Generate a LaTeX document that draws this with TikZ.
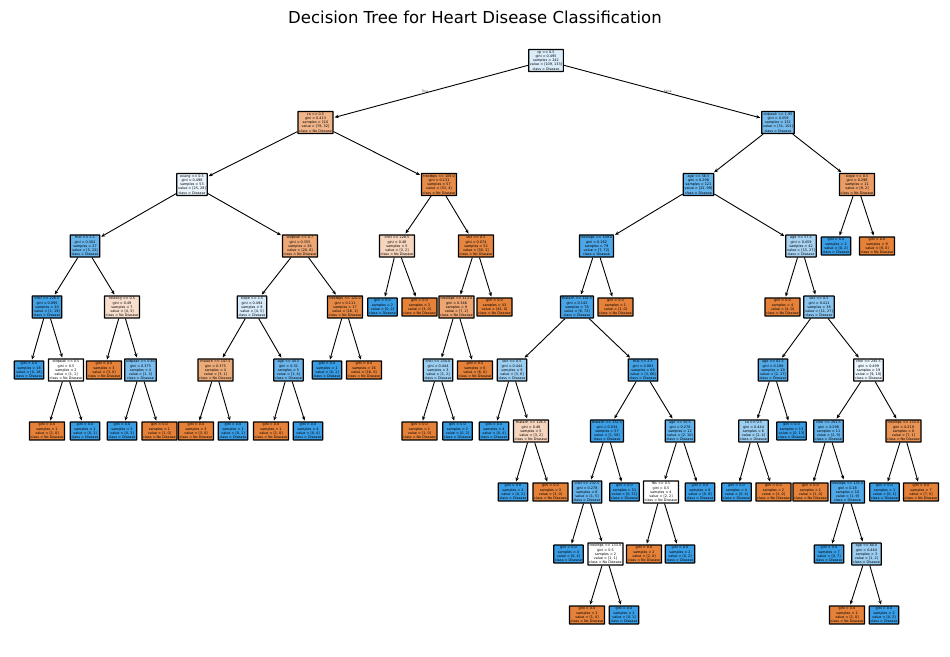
\documentclass[tikz,border=0pt]{standalone}
\usepackage{fontspec}
\setmainfont{DejaVu Sans}
\usepackage{xcolor}
\usetikzlibrary{arrows.meta}
\definecolor{nodis}{RGB}{229,129,57}
\definecolor{dis}{RGB}{57,157,229}

\begin{document}
\begin{tikzpicture}[x=1pt, y=-1pt,
    box/.style={rectangle, draw, line width=1.2pt, rounded corners=0.3pt, inner sep=1.3pt, align=center, font=\fontsize{3.4}{4.2}\selectfont},
    leafno/.style={box, fill=nodis},
    leafyes/.style={box, fill=dis},
    arr/.style={-{Stealth[length=4pt, width=3.4pt]}, line width=0.9pt, shorten >=1pt}]
    \useasboundingbox (0,0) rectangle (950,656);
    \node (title) at (475,17) {\fontsize{16.5}{20}\selectfont Decision Tree for Heart Disease Classification};

    % level 0 and 1
    \node[box, fill=dis!18] (n0) at (546,60.5) {cp <= 0.5\\gini = 0.495\\samples = 242\\value = [109, 133]\\class = Disease};
    \node[box, fill=nodis!59] (n1) at (315.5,122.5) {ca <= 0.5\\gini = 0.413\\samples = 110\\value = [78, 32]\\class = No Disease};
    \node[box, fill=dis!69] (n2) at (778,122.5) {oldpeak <= 1.95\\gini = 0.359\\samples = 132\\value = [31, 101]\\class = Disease};

    % level 2
    \node[box, fill=dis!11] (n3) at (192,184.5) {exang <= 0.5\\gini = 0.498\\samples = 53\\value = [25, 28]\\class = Disease};
    \node[box, fill=nodis!92] (n4) at (439,184.5) {trestbps <= 109.0\\gini = 0.131\\samples = 57\\value = [53, 4]\\class = No Disease};
    \node[box, fill=dis!78] (n5) at (698.5,184.5) {age <= 56.5\\gini = 0.298\\samples = 121\\value = [22, 99]\\class = Disease};
    \node[box, fill=nodis!78] (n6) at (857,184.5) {slope <= 0.5\\gini = 0.298\\samples = 11\\value = [9, 2]\\class = No Disease};

    % level 3
    \node[box, fill=dis!77] (n7) at (85,246) {thal <= 2.5\\gini = 0.302\\samples = 27\\value = [5, 22]\\class = Disease};
    \node[box, fill=nodis!70] (n8) at (300,246) {oldpeak <= 0.7\\gini = 0.355\\samples = 26\\value = [20, 6]\\class = No Disease};
    \node[box, fill=nodis!33] (n9) at (397,246) {chol <= 228.5\\gini = 0.48\\samples = 5\\value = [3, 2]\\class = No Disease};
    \node[box, fill=nodis!96] (n10) at (476,246) {sex <= 0.5\\gini = 0.074\\samples = 52\\value = [50, 2]\\class = No Disease};
    \node[box, fill=dis!90] (n11) at (596.5,246) {trestbps <= 109.0\\gini = 0.162\\samples = 79\\value = [7, 72]\\class = Disease};
    \node[box, fill=dis!44] (n12) at (801,246) {age <= 57.5\\gini = 0.459\\samples = 42\\value = [15, 27]\\class = Disease};
    \node[leafyes] (n13) at (836,246) {gini = 0.0\\samples = 2\\value = [0, 2]\\class = Disease};
    \node[leafno] (n14) at (877,246) {gini = 0.0\\samples = 9\\value = [9, 0]\\class = No Disease};

    % level 4
    \node[box, fill=dis!95] (n15) at (47,307) {chol <= 226.5\\gini = 0.095\\samples = 20\\value = [1, 19]\\class = Disease};
    \node[box, fill=nodis!25] (n16) at (122,307) {restecg <= 0.5\\gini = 0.49\\samples = 7\\value = [4, 3]\\class = No Disease};
    \node[box, fill=dis!20] (n17) at (252,307) {slope <= 1.5\\gini = 0.494\\samples = 9\\value = [4, 5]\\class = Disease};
    \node[box, fill=nodis!94] (n18) at (345,307) {trestbps <= 120.0\\gini = 0.111\\samples = 17\\value = [16, 1]\\class = No Disease};
    \node[leafyes] (n19) at (382.5,307) {gini = 0.0\\samples = 2\\value = [0, 2]\\class = Disease};
    \node[leafno] (n20) at (419.5,307) {gini = 0.0\\samples = 3\\value = [3, 0]\\class = No Disease};
    \node[box, fill=nodis!71] (n21) at (456.5,307) {trestbps <= 113.0\\gini = 0.346\\samples = 9\\value = [7, 2]\\class = No Disease};
    \node[leafno] (n22) at (494.5,307) {gini = 0.0\\samples = 43\\value = [43, 0]\\class = No Disease};
    \node[box, fill=dis!92] (n23) at (577,307) {thalach <= 142.5\\gini = 0.142\\samples = 78\\value = [6, 72]\\class = Disease};
    \node[leafno] (n24) at (615.5,307) {gini = 0.0\\samples = 1\\value = [1, 0]\\class = No Disease};
    \node[leafno] (n25) at (782.5,307) {gini = 0.0\\samples = 4\\value = [4, 0]\\class = No Disease};
    \node[box, fill=dis!59] (n26) at (819,307) {sex <= 0.5\\gini = 0.411\\samples = 38\\value = [11, 27]\\class = Disease};

    % level 5
    \node[leafyes] (n27) at (29,370) {gini = 0.0\\samples = 18\\value = [0, 18]\\class = Disease};
    \node[box, fill=white] (n28) at (66,370) {oldpeak <= 0.5\\gini = 0.5\\samples = 2\\value = [1, 1]\\class = No Disease};
    \node[leafno] (n29) at (104,370) {gini = 0.0\\samples = 3\\value = [3, 0]\\class = No Disease};
    \node[box, fill=dis!67] (n30) at (140.5,370) {oldpeak <= 0.85\\gini = 0.375\\samples = 4\\value = [1, 3]\\class = Disease};
    \node[box, fill=nodis!67] (n31) at (215.5,370) {thalach <= 147.5\\gini = 0.375\\samples = 4\\value = [3, 1]\\class = No Disease};
    \node[box, fill=dis!75] (n32) at (288.5,370) {age <= 44.5\\gini = 0.32\\samples = 5\\value = [1, 4]\\class = Disease};
    \node[leafyes] (n33) at (327,370) {gini = 0.0\\samples = 1\\value = [0, 1]\\class = Disease};
    \node[leafno] (n34) at (364,370) {gini = 0.0\\samples = 16\\value = [16, 0]\\class = No Disease};
    \node[box, fill=dis!50] (n35) at (438,370) {chol <= 254.0\\gini = 0.444\\samples = 3\\value = [1, 2]\\class = Disease};
    \node[leafno] (n36) at (475,370) {gini = 0.0\\samples = 6\\value = [6, 0]\\class = No Disease};
    \node[box, fill=dis!50] (n37) at (512,370) {sex <= 0.5\\gini = 0.444\\samples = 9\\value = [3, 6]\\class = Disease};
    \node[box, fill=dis!95] (n38) at (643,370) {thal <= 2.5\\gini = 0.083\\samples = 69\\value = [3, 66]\\class = Disease};
    \node[box, fill=dis!88] (n39) at (773,370) {age <= 62.5\\gini = 0.188\\samples = 19\\value = [2, 17]\\class = Disease};
    \node[box, fill=dis!10] (n40) at (868.5,370) {chol <= 245.5\\gini = 0.499\\samples = 19\\value = [9, 10]\\class = Disease};

    % level 6
    \node[leafno] (n41) at (47,431) {gini = 0.0\\samples = 1\\value = [1, 0]\\class = No Disease};
    \node[leafyes] (n42) at (85,431) {gini = 0.0\\samples = 1\\value = [0, 1]\\class = Disease};
    \node[leafyes] (n43) at (122,431) {gini = 0.0\\samples = 3\\value = [0, 3]\\class = Disease};
    \node[leafno] (n44) at (159.5,431) {gini = 0.0\\samples = 1\\value = [1, 0]\\class = No Disease};
    \node[leafno] (n45) at (196,431) {gini = 0.0\\samples = 3\\value = [3, 0]\\class = No Disease};
    \node[leafyes] (n46) at (233,431) {gini = 0.0\\samples = 1\\value = [0, 1]\\class = Disease};
    \node[leafno] (n47) at (271,431) {gini = 0.0\\samples = 1\\value = [1, 0]\\class = No Disease};
    \node[leafyes] (n48) at (308,431) {gini = 0.0\\samples = 4\\value = [0, 4]\\class = Disease};
    \node[leafno] (n49) at (419.5,431) {gini = 0.0\\samples = 1\\value = [1, 0]\\class = No Disease};
    \node[leafyes] (n50) at (457.5,431) {gini = 0.0\\samples = 2\\value = [0, 2]\\class = Disease};
    \node[leafyes] (n51) at (494,431) {gini = 0.0\\samples = 4\\value = [0, 4]\\class = Disease};
    \node[box, fill=nodis!33] (n52) at (531,431) {thalach <= 126.5\\gini = 0.48\\samples = 5\\value = [3, 2]\\class = No Disease};
    \node[box, fill=dis!98] (n53) at (607,431) {thalach <= 152.5\\gini = 0.034\\samples = 57\\value = [1, 56]\\class = Disease};
    \node[box, fill=dis!80] (n54) at (680,431) {age <= 50.5\\gini = 0.278\\samples = 12\\value = [2, 10]\\class = Disease};
    \node[box, fill=dis!50] (n55) at (753.5,431) {ca <= 0.5\\gini = 0.444\\samples = 6\\value = [2, 4]\\class = Disease};
    \node[leafyes] (n56) at (791.5,431) {gini = 0.0\\samples = 13\\value = [0, 13]\\class = Disease};
    \node[box, fill=dis!78] (n57) at (828.5,431) {chol <= 261.5\\gini = 0.298\\samples = 11\\value = [2, 9]\\class = Disease};
    \node[box, fill=nodis!86] (n58) at (903.5,431) {trestbps <= 133.0\\gini = 0.219\\samples = 8\\value = [7, 1]\\class = No Disease};

    % level 7
    \node[leafyes] (n59) at (513,492) {gini = 0.0\\samples = 2\\value = [0, 2]\\class = Disease};
    \node[leafno] (n60) at (550.5,492) {gini = 0.0\\samples = 3\\value = [3, 0]\\class = No Disease};
    \node[box, fill=dis!80] (n61) at (587,492) {chol <= 232.5\\gini = 0.278\\samples = 6\\value = [1, 5]\\class = Disease};
    \node[leafyes] (n62) at (624.5,492) {gini = 0.0\\samples = 51\\value = [0, 51]\\class = Disease};
    \node[box, fill=white] (n63) at (661,492) {fbs <= 0.5\\gini = 0.5\\samples = 4\\value = [2, 2]\\class = No Disease};
    \node[leafyes] (n64) at (700,492) {gini = 0.0\\samples = 8\\value = [0, 8]\\class = Disease};
    \node[leafyes] (n65) at (736.5,492) {gini = 0.0\\samples = 4\\value = [0, 4]\\class = Disease};
    \node[leafno] (n66) at (773.5,492) {gini = 0.0\\samples = 2\\value = [2, 0]\\class = No Disease};
    \node[leafno] (n67) at (810.5,492) {gini = 0.0\\samples = 1\\value = [1, 0]\\class = No Disease};
    \node[box, fill=dis!89] (n68) at (847.5,492) {trestbps <= 131.0\\gini = 0.18\\samples = 10\\value = [1, 9]\\class = Disease};
    \node[leafyes] (n69) at (884.5,492) {gini = 0.0\\samples = 1\\value = [0, 1]\\class = Disease};
    \node[leafno] (n70) at (921,492) {gini = 0.0\\samples = 7\\value = [7, 0]\\class = No Disease};

    % level 8 and 9
    \node[leafyes] (n71) at (568.5,554) {gini = 0.0\\samples = 4\\value = [0, 4]\\class = Disease};
    \node[box, fill=white] (n72) at (605.5,554) {trestbps <= 133.0\\gini = 0.5\\samples = 2\\value = [1, 1]\\class = No Disease};
    \node[leafno] (n73) at (644,554) {gini = 0.0\\samples = 2\\value = [2, 0]\\class = No Disease};
    \node[leafyes] (n74) at (680,554) {gini = 0.0\\samples = 2\\value = [0, 2]\\class = Disease};
    \node[leafyes] (n75) at (829,554) {gini = 0.0\\samples = 7\\value = [0, 7]\\class = Disease};
    \node[box, fill=dis!50] (n76) at (866.5,554) {age <= 60.0\\gini = 0.444\\samples = 3\\value = [1, 2]\\class = Disease};
    \node[leafno] (n77) at (587,615) {gini = 0.0\\samples = 1\\value = [1, 0]\\class = No Disease};
    \node[leafyes] (n78) at (624,615) {gini = 0.0\\samples = 1\\value = [0, 1]\\class = Disease};
    \node[leafno] (n79) at (847,615) {gini = 0.0\\samples = 1\\value = [1, 0]\\class = No Disease};
    \node[leafyes] (n80) at (884,615) {gini = 0.0\\samples = 2\\value = [0, 2]\\class = Disease};

    % edge labels
    \node[font=\fontsize{3}{3.5}\selectfont, text=darkgray] (true) at (425,91) {True};
    \node[font=\fontsize{3}{3.5}\selectfont, text=darkgray] (false) at (668,91) {False};

    % connectors
    \draw[arr] (n0) -- (n1);
    \draw[arr] (n0) -- (n2);
    \draw[arr] (n1) -- (n3);
    \draw[arr] (n1) -- (n4);
    \draw[arr] (n2) -- (n5);
    \draw[arr] (n2) -- (n6);
    \draw[arr] (n3) -- (n7);
    \draw[arr] (n3) -- (n8);
    \draw[arr] (n4) -- (n9);
    \draw[arr] (n4) -- (n10);
    \draw[arr] (n5) -- (n11);
    \draw[arr] (n5) -- (n12);
    \draw[arr] (n6) -- (n13);
    \draw[arr] (n6) -- (n14);
    \draw[arr] (n7) -- (n15);
    \draw[arr] (n7) -- (n16);
    \draw[arr] (n8) -- (n17);
    \draw[arr] (n8) -- (n18);
    \draw[arr] (n9) -- (n19);
    \draw[arr] (n9) -- (n20);
    \draw[arr] (n10) -- (n21);
    \draw[arr] (n10) -- (n22);
    \draw[arr] (n11) -- (n23);
    \draw[arr] (n11) -- (n24);
    \draw[arr] (n12) -- (n25);
    \draw[arr] (n12) -- (n26);
    \draw[arr] (n15) -- (n27);
    \draw[arr] (n15) -- (n28);
    \draw[arr] (n16) -- (n29);
    \draw[arr] (n16) -- (n30);
    \draw[arr] (n17) -- (n31);
    \draw[arr] (n17) -- (n32);
    \draw[arr] (n18) -- (n33);
    \draw[arr] (n18) -- (n34);
    \draw[arr] (n21) -- (n35);
    \draw[arr] (n21) -- (n36);
    \draw[arr] (n23) -- (n37);
    \draw[arr] (n23) -- (n38);
    \draw[arr] (n26) -- (n39);
    \draw[arr] (n26) -- (n40);
    \draw[arr] (n28) -- (n41);
    \draw[arr] (n28) -- (n42);
    \draw[arr] (n30) -- (n43);
    \draw[arr] (n30) -- (n44);
    \draw[arr] (n31) -- (n45);
    \draw[arr] (n31) -- (n46);
    \draw[arr] (n32) -- (n47);
    \draw[arr] (n32) -- (n48);
    \draw[arr] (n35) -- (n49);
    \draw[arr] (n35) -- (n50);
    \draw[arr] (n37) -- (n51);
    \draw[arr] (n37) -- (n52);
    \draw[arr] (n38) -- (n53);
    \draw[arr] (n38) -- (n54);
    \draw[arr] (n39) -- (n55);
    \draw[arr] (n39) -- (n56);
    \draw[arr] (n40) -- (n57);
    \draw[arr] (n40) -- (n58);
    \draw[arr] (n52) -- (n59);
    \draw[arr] (n52) -- (n60);
    \draw[arr] (n53) -- (n61);
    \draw[arr] (n53) -- (n62);
    \draw[arr] (n54) -- (n63);
    \draw[arr] (n54) -- (n64);
    \draw[arr] (n55) -- (n65);
    \draw[arr] (n55) -- (n66);
    \draw[arr] (n57) -- (n67);
    \draw[arr] (n57) -- (n68);
    \draw[arr] (n58) -- (n69);
    \draw[arr] (n58) -- (n70);
    \draw[arr] (n61) -- (n71);
    \draw[arr] (n61) -- (n72);
    \draw[arr] (n63) -- (n73);
    \draw[arr] (n63) -- (n74);
    \draw[arr] (n68) -- (n75);
    \draw[arr] (n68) -- (n76);
    \draw[arr] (n72) -- (n77);
    \draw[arr] (n72) -- (n78);
    \draw[arr] (n76) -- (n79);
    \draw[arr] (n76) -- (n80);
\end{tikzpicture}
\end{document}
